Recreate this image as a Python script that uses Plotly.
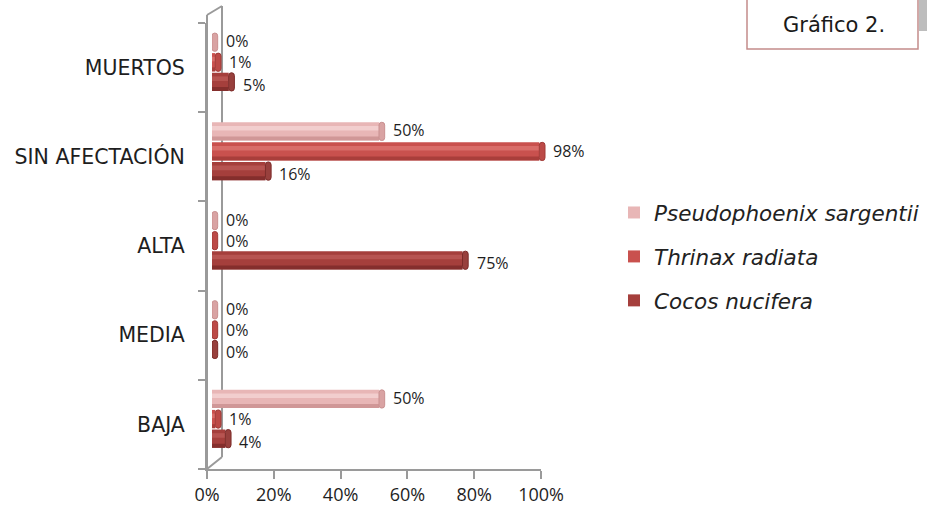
import plotly.graph_objects as go

# Damage categories, bottom to top on the vertical axis
categories = ["BAJA", "MEDIA", "ALTA", "SIN AFECTACIÓN", "MUERTOS"]

# Percentage of palms per category and species
pseudophoenix = [50, 0, 0, 50, 0]
thrinax = [1, 0, 0, 98, 1]
cocos = [4, 0, 75, 16, 5]

x_ticks = [0, 20, 40, 60, 80, 100]
x_ticktext = ["0%", "20%", "40%", "60%", "80%", "100%"]

W, H = 927, 510
FONT = "Open Sans, Lato, sans-serif"
WIDE = "DejaVu Sans, Open Sans, sans-serif"


def px_x(p):
    return p / W


def px_y(p):
    return 1 - p / H


# species: name, values, slot centre (category units), label nudge (px),
#          body, light, dark, cap colours
series = [
    ("Cocos nucifera", cocos, -0.16, -3, "#A53F3C", "#BE5C58", "#7C2B29", "#98403D"),
    ("Thrinax radiata", thrinax, 0.06, 0, "#C9514E", "#DE7773", "#A13A37", "#BC4A47"),
    ("Pseudophoenix sargentii", pseudophoenix, 0.285, 1, "#E8B6B6", "#F5D6D6", "#C99090", "#D9A3A3"),
]
bar_w = 0.205
cap_len = 1.7

fig = go.Figure()
ypos = list(range(len(categories)))

for i, (name, vals, centre, nudge, body, light, dark, cap) in enumerate(series):
    off = centre - bar_w / 2
    # cylinder body
    fig.add_trace(go.Bar(
        y=ypos, x=vals, orientation="h", name=name,
        offset=off, width=bar_w,
        marker=dict(color=body, line=dict(width=0)),
        legendgroup=name, legendrank=10 - i,
        hoverinfo="skip",
    ))
    # lower shadow band
    fig.add_trace(go.Bar(
        y=ypos, x=vals, orientation="h", showlegend=False,
        offset=off, width=bar_w * 0.22,
        marker=dict(color=dark, line=dict(width=0)), opacity=0.8,
        hoverinfo="skip",
    ))
    # upper highlight band
    fig.add_trace(go.Bar(
        y=ypos, x=vals, orientation="h", showlegend=False,
        offset=off + bar_w * 0.55, width=bar_w * 0.25,
        marker=dict(color=light, line=dict(width=0)), opacity=0.75,
        hoverinfo="skip",
    ))
    # rounded end cap of the cylinder
    fig.add_trace(go.Bar(
        y=ypos, x=[cap_len] * len(vals), base=vals, orientation="h",
        showlegend=False, offset=off, width=bar_w,
        marker=dict(color=cap, line=dict(width=1, color=dark), cornerradius="50%"),
        hoverinfo="skip",
    ))
    # value labels
    for k, v in enumerate(vals):
        fig.add_annotation(
            x=v, y=k + centre, xref="x", yref="y",
            text=f"{v}%", showarrow=False, xanchor="left", yanchor="middle",
            xshift=13, yshift=nudge, borderpad=0,
            font=dict(family=FONT, size=16, color="#1e1e1e"),
        )

# empty trace so the front floor axis (x2) is laid out
fig.add_trace(go.Scatter(x=[], y=[], xaxis="x2", yaxis="y", showlegend=False,
                         hoverinfo="skip"))

frame = "#9A9A9A"
shapes = [
    # front vertical edge extended to the top of the frame
    dict(type="line", xref="paper", yref="paper", x0=px_x(207), x1=px_x(207),
         y0=px_y(469), y1=px_y(15), line=dict(color=frame, width=2), layer="below"),
    # top connector
    dict(type="line", xref="paper", yref="paper", x0=px_x(207), x1=px_x(222),
         y0=px_y(15), y1=px_y(6), line=dict(color=frame, width=2), layer="below"),
    # back wall edge
    dict(type="line", xref="paper", yref="paper", x0=px_x(222), x1=px_x(222),
         y0=px_y(6), y1=px_y(457), line=dict(color=frame, width=2), layer="below"),
    # floor connector
    dict(type="line", xref="paper", yref="paper", x0=px_x(207), x1=px_x(222),
         y0=px_y(469), y1=px_y(457), line=dict(color=frame, width=2), layer="below"),
    # title box shadow
    dict(type="rect", xref="paper", yref="paper", x0=px_x(919), x1=px_x(927),
         y0=px_y(31), y1=px_y(-2), fillcolor="#BDBDBD", line=dict(width=0)),
    # title box
    dict(type="rect", xref="paper", yref="paper", x0=px_x(747), x1=px_x(918),
         y0=px_y(49), y1=px_y(-3), fillcolor="white", line=dict(color="#C48C8B", width=1.5)),
]

fig.add_annotation(
    x=px_x(834), y=px_y(25), xref="paper", yref="paper", text="Gráfico 2.",
    xanchor="center", yanchor="middle",
    showarrow=False, font=dict(family=WIDE, size=21, color="#1a1a1a"),
)

fig.update_layout(
    width=W, height=H,
    margin=dict(l=0, r=0, t=0, b=0, autoexpand=False),
    paper_bgcolor="white", plot_bgcolor="rgba(0,0,0,0)",
    barmode="overlay",
    shapes=shapes,
    showlegend=True,
    legend=dict(
        x=px_x(614), y=px_y(192), xanchor="left", yanchor="top",
        font=dict(family=WIDE, size=21.5, color="#222", style="italic"),
        tracegroupgap=13, bgcolor="rgba(0,0,0,0)",
    ),
    xaxis=dict(
        domain=[px_x(212), px_x(546)], range=[0, 100], visible=False,
        anchor="y", fixedrange=True, automargin=False,
    ),
    xaxis2=dict(
        domain=[px_x(207), px_x(541)], range=[0, 100], anchor="y",
        tickvals=x_ticks, ticktext=x_ticktext, automargin=False,
        showline=True, linecolor=frame, linewidth=2,
        ticks="outside", ticklen=8, tickwidth=2, tickcolor=frame,
        showgrid=False, zeroline=False,
        tickfont=dict(family=FONT, size=18, color="#1e1e1e"),
    ),
    yaxis=dict(
        domain=[px_y(469), px_y(23)], range=[-0.5, 4.5], anchor="x2",
        tickvals=ypos, ticktext=categories, ticks="", automargin=False,
        showline=True, linecolor=frame, linewidth=2,
        showgrid=False, zeroline=False,
        minor=dict(tickmode="linear", tick0=-0.5, dtick=1, ticks="outside",
                   ticklen=7, tickwidth=2, tickcolor=frame),
        ticklabelstandoff=16,
        tickfont=dict(family=WIDE, size=20.5, color="#1e1e1e"),
    ),
)

fig.write_html("out.html")
